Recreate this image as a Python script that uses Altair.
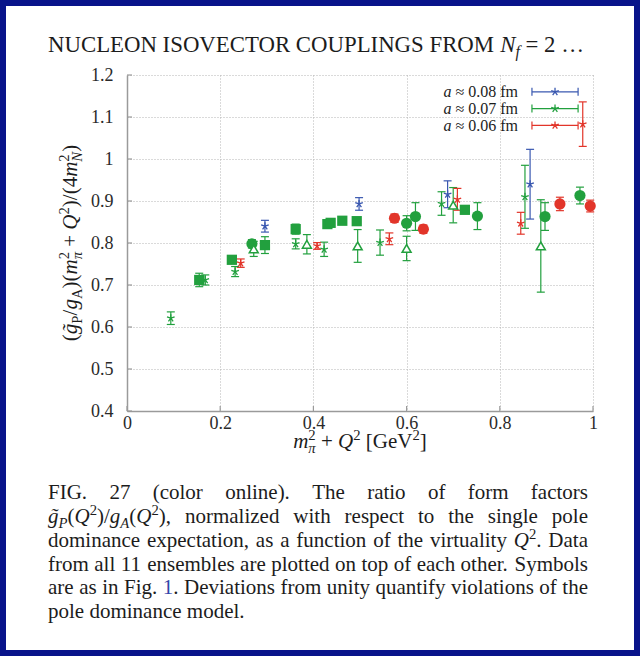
import altair as alt
import pandas as pd

# ---------------- data ----------------
blue_star_x = [0.296, 0.498, 0.688, 0.865]
blue_star_y = [0.840, 0.893, 0.916, 0.940]
blue_star_e = [0.014, 0.015, 0.032, 0.083]

green_star_x = [0.094, 0.168, 0.232, 0.362, 0.423, 0.543, 0.675, 0.854]
green_star_y = [0.621, 0.712, 0.732, 0.798, 0.785, 0.801, 0.894, 0.910]
green_star_e = [0.015, 0.012, 0.012, 0.012, 0.017, 0.030, 0.028, 0.075]

green_sq_x = [0.155, 0.225, 0.296, 0.362, 0.430, 0.437, 0.462, 0.493, 0.725]
green_sq_y = [0.712, 0.760, 0.795, 0.833, 0.845, 0.848, 0.853, 0.852, 0.879]
green_sq_e = [0.016, 0.008, 0.020, 0.012, 0.008, 0.008, 0.006, 0.006, 0.008]

green_ci_x = [0.268, 0.600, 0.619, 0.752, 0.897, 0.972]
green_ci_y = [0.798, 0.847, 0.863, 0.864, 0.863, 0.913]
green_ci_e = [0.010, 0.018, 0.033, 0.032, 0.033, 0.020]

green_tr_x = [0.272, 0.386, 0.495, 0.600, 0.700, 0.888]
green_tr_y = [0.786, 0.797, 0.793, 0.787, 0.890, 0.793]
green_tr_e = [0.018, 0.023, 0.039, 0.029, 0.042, 0.110]

red_star_x = [0.244, 0.408, 0.563, 0.709, 0.845, 0.978]
red_star_y = [0.752, 0.793, 0.810, 0.904, 0.847, 1.083]
red_star_e = [0.010, 0.008, 0.014, 0.026, 0.026, 0.053]

red_ci_x = [0.574, 0.636, 0.929, 0.994]
red_ci_y = [0.859, 0.833, 0.893, 0.888]
red_ci_e = [0.010, 0.010, 0.016, 0.014]

spacing_labels = ["0.08 fm", "0.07 fm", "0.06 fm"]
spacing_colors = ["#3a58b0", "#22a03e", "#e2352a"]

x_ticks = [0, 0.2, 0.4, 0.6, 0.8, 1]
y_ticks = [0.4, 0.5, 0.6, 0.7, 0.8, 0.9, 1.0, 1.1, 1.2]

title_text = "NUCLEON ISOVECTOR COUPLINGS FROM "
caption_lines = [
    "FIG. 27 (color online). The ratio of form factors",
    "normalized with respect to the single pole",
    "dominance expectation, as a function of the virtuality",
    "from all 11 ensembles are plotted on top of each other. Symbols",
    "Deviations from unity quantify violations of the",
    "pole dominance model.",
]

# ---------------- layout constants ----------------
PW, PH = 466, 336          # plot area size
OX, OY = 127, 75           # plot origin on the canvas
XD = [0, 1]
YD = [0.4, 1.2]
FONT = "Liberation Serif"
INK = "#1c1c1c"
LINK = "#3344aa"
NAVY = "#08148a"
AXC = "#9a9a9a"

series = [
    (spacing_labels[0], "star", blue_star_x, blue_star_y, blue_star_e),
    (spacing_labels[1], "star", green_star_x, green_star_y, green_star_e),
    (spacing_labels[1], "square", green_sq_x, green_sq_y, green_sq_e),
    (spacing_labels[1], "circle", green_ci_x, green_ci_y, green_ci_e),
    (spacing_labels[1], "triangle", green_tr_x, green_tr_y, green_tr_e),
    (spacing_labels[2], "star", red_star_x, red_star_y, red_star_e),
    (spacing_labels[2], "circle", red_ci_x, red_ci_y, red_ci_e),
]
rows = []
for a, m, xs_, ys_, es_ in series:
    for xv, yv, ev in zip(xs_, ys_, es_):
        rows.append(dict(a=a, m=m, x=xv, y=yv, lo=yv - ev, hi=yv + ev))
df = pd.DataFrame(rows)

# ---------------- scales / axes ----------------
xs = alt.Scale(domain=XD, nice=False, zero=False)
ys = alt.Scale(domain=YD, nice=False, zero=False)
common_axis = dict(
    title=None, grid=True, gridDash=[1, 2], gridColor="#b5b5b5", gridWidth=1,
    domainColor=AXC, domainWidth=1.5, ticks=False, tickSize=0,
    labelFont=FONT, labelFontSize=18, labelColor="#2a2a2a", labelFlush=False,
    labelOverlap=False, format="~g",
)
xaxis = alt.Axis(values=x_ticks, labelPadding=3, **common_axis)
yaxis = alt.Axis(values=y_ticks, labelPadding=14, **common_axis)


def X(f):
    return alt.X(f"{f}:Q", scale=xs, axis=xaxis)


def Y(f):
    return alt.Y(f"{f}:Q", scale=ys, axis=yaxis)


col = alt.Color("a:N", scale=alt.Scale(domain=spacing_labels, range=spacing_colors), legend=None)

STAR = "M0,0L0,-1M0,0L0.95,-0.31M0,0L0.59,0.81M0,0L-0.59,0.81M0,0L-0.95,-0.31"
HCAP = "M-1,0L1,0"
VCAP = "M0,-1L0,1"

base = alt.Chart(df)
err_rule = base.mark_rule(strokeWidth=1.2).encode(x=X("x"), y=Y("lo"), y2="hi:Q", color=col)
cap_lo = base.mark_point(shape=HCAP, size=64, filled=False, strokeWidth=1.2, opacity=1).encode(
    x=X("x"), y=Y("lo"), color=col)
cap_hi = base.mark_point(shape=HCAP, size=64, filled=False, strokeWidth=1.2, opacity=1).encode(
    x=X("x"), y=Y("hi"), color=col)
squares = base.transform_filter(alt.datum.m == "square").mark_point(
    shape="square", filled=True, size=105, opacity=1).encode(x=X("x"), y=Y("y"), color=col)
circles = base.transform_filter(alt.datum.m == "circle").mark_point(
    shape="circle", filled=True, size=125, opacity=1).encode(x=X("x"), y=Y("y"), color=col)
triangles = base.transform_filter(alt.datum.m == "triangle").mark_point(
    shape="triangle-up", filled=False, fill="white", fillOpacity=1, size=80, strokeWidth=1.5,
    opacity=1).encode(x=X("x"), y=Y("y"), color=col)
stars = base.transform_filter(alt.datum.m == "star").mark_point(
    shape=STAR, filled=False, size=64, strokeWidth=1.3, opacity=1).encode(
    x=X("x"), y=Y("y"), color=col)

# inward tick marks on the left and bottom axes
ytk = pd.DataFrame({"y": y_ticks, "x": [XD[0]] * len(y_ticks)})
xtk = pd.DataFrame({"x": x_ticks, "y": [YD[0]] * len(x_ticks)})
ytick_marks = alt.Chart(ytk).mark_point(
    shape="M0,0L1,0", size=100, filled=False, color=AXC, strokeWidth=1.2, opacity=1).encode(
    x=X("x"), y=Y("y"))
xtick_marks = alt.Chart(xtk).mark_point(
    shape="M0,0L0,-1", size=100, filled=False, color=AXC, strokeWidth=1.2, opacity=1).encode(
    x=X("x"), y=Y("y"))

# ---------------- key (legend) ----------------
KEY_Y0, KEY_DY = 1.16, 0.04
KEY_X0, KEY_X1, KEY_TXT = 0.869, 0.968, 0.839
key = pd.DataFrame({
    "a": spacing_labels,
    "y": [KEY_Y0 - KEY_DY * i for i in range(3)],
})
key["x"] = KEY_X0
key["x2"] = KEY_X1
key["xm"] = (KEY_X0 + KEY_X1) / 2
kb = alt.Chart(key)
key_rule = kb.mark_rule(strokeWidth=1.2).encode(x=X("x"), x2="x2:Q", y=Y("y"), color=col)
key_c0 = kb.mark_point(shape=VCAP, size=64, filled=False, strokeWidth=1.2, opacity=1).encode(
    x=X("x"), y=Y("y"), color=col)
key_c1 = kb.mark_point(shape=VCAP, size=64, filled=False, strokeWidth=1.2, opacity=1).encode(
    x=X("x2"), y=Y("y"), color=col)
key_star = kb.mark_point(shape=STAR, size=64, filled=False, strokeWidth=1.3, opacity=1).encode(
    x=X("xm"), y=Y("y"), color=col)

# ---------------- rich text layout (Times metrics) ----------------
W = {" ": 250, "(": 333, ")": 333, ",": 250, ".": 250, "/": 278, "=": 564, "+": 564,
     "[": 333, "]": 333, "\u2248": 549, "\u2026": 1000, "\u0303": 0, "\u03c0": 549}
for d in "0123456789":
    W[d] = 500
W.update(dict(A=722, B=667, C=667, D=722, E=611, F=556, G=722, H=722, I=333, J=389, K=722,
              L=611, M=889, N=722, O=722, P=556, Q=722, R=667, S=556, T=611, U=722, V=722,
              W=944, X=722, Y=722, Z=611))
W.update(dict(a=444, b=500, c=444, d=500, e=444, f=333, g=500, h=500, i=278, j=278, k=500,
              l=278, m=778, n=500, o=500, p=500, q=500, r=333, s=389, t=278, u=500, v=500,
              w=722, x=500, y=500, z=444))
WI = dict(W)
WI.update(dict(A=611, N=667, P=611, Q=722, a=500, f=278, g=500, m=722))
WI["\u03c0"] = 500


def width(s, italic):
    tb = WI if italic else W
    return sum(tb.get(c, 500) for c in s) / 1000.0


def R(s): return (s, "r", 1.0, 0.0, True)
def I(s): return (s, "i", 1.0, 0.0, True)
def B(s): return (s, "b", 1.0, 0.0, True)
def SUB(s, st="i"): return (s, st, 0.7, 0.22, True)
def SUP(s): return (s, "r", 0.7, -0.4, True)
def SUPNA(s): return (s, "r", 0.7, -0.4, False)


def run_w(run, size):
    t, st, sc, dy, adv = run
    return width(t, st == "i") * size * sc if adv else 0.0


def place(runs, x0, y0, size, angle=0):
    """Lay runs out one after another; spaces only advance the pen."""
    out, pos = [], 0.0
    for run in runs:
        t, st, sc, dy, adv = run
        fs = size * sc
        lead = len(t) - len(t.lstrip(" "))
        shown = t.strip(" ")
        off = pos + width(" " * lead, st == "i") * fs
        if shown:
            if angle == 0:
                px, py = x0 + off, y0 + dy * size
            else:
                px, py = x0 + dy * size, y0 - off
            out.append(dict(px=px, py=py, t=shown, fs=fs, st=st, ang=angle))
        pos += run_w(run, size)
    return out, pos


def words_of(s):
    return [[R(w)] for w in s.split()]


def justify(words, x0, y0, size, target=None):
    ws = [sum(run_w(r, size) for r in w) for w in words]
    gap = 0.25 * size
    if target is not None and len(words) > 1:
        gap = (target - sum(ws)) / (len(words) - 1)
    out, x = [], x0
    for w, wd in zip(words, ws):
        o, _ = place(w, x, y0, size)
        out += o
        x += wd + gap
    return out


texts = []
# title
t_runs = [R(title_text), I("N"), SUB("f"), R(" = 2 \u2026")]
o, _ = place(t_runs, 48 - OX, 52 - OY, 22.8)
texts += o

# caption
CAP = 21
cap_x0, cap_w = 48 - OX, 540
base_lines = [499, 523, 547, 571, 594, 618]
line_words = [
    words_of(caption_lines[0]),
    [[I("g\u0303"), SUB("P"), R("("), I("Q"), SUP("2"), R(")/"), I("g"), SUB("A"), R("("),
      I("Q"), SUP("2"), R("),")]] + words_of(caption_lines[1]),
    words_of(caption_lines[2]) + [[I("Q"), SUP("2"), R(".")], [R("Data")]],
    words_of(caption_lines[3]),
    words_of("are as in Fig.") + [[B("1"), R(".")]] + words_of(caption_lines[4]),
    words_of(caption_lines[5]),
]
for i, (wds, bl) in enumerate(zip(line_words, base_lines)):
    texts += justify(wds, cap_x0, bl - OY, CAP, cap_w if i < 5 else None)

# x axis title
xt_runs = [I("m"), SUPNA("2"), SUB("\u03c0"), R(" + "), I("Q"), SUP("2"), R(" [GeV"), SUP("2"), R("]")]
xt_len = sum(run_w(r, 21) for r in xt_runs)
o, _ = place(xt_runs, PW / 2 - xt_len / 2, 448 - OY, 21)
texts += o

# y axis title (rotated)
yt_runs = [R("("), I("g\u0303"), SUB("P", "r"), R("/"), I("g"), SUB("A", "r"), R(")("), I("m"),
           SUPNA("2"), SUB("\u03c0"), R(" + "), I("Q"), SUP("2"), R(")/(4"), I("m"), SUPNA("2"),
           SUB("N"), R(")")]
yt_len = sum(run_w(r, 21) for r in yt_runs)
o, _ = place(yt_runs, 77 - OX, PH / 2 + yt_len / 2, 21, angle=270)
texts += o

# key labels, right aligned
KEY_FS = 16
for lab, yv in zip(spacing_labels, key["y"]):
    runs = [I("a"), R(" \u2248 " + lab)]
    L = sum(run_w(r, KEY_FS) for r in runs)
    py = (YD[1] - yv) / (YD[1] - YD[0]) * PH + 5.5
    o, _ = place(runs, KEY_TXT * PW - L, py, KEY_FS)
    texts += o

tdf = pd.DataFrame(texts)
tdf["x"] = tdf["px"] / PW * (XD[1] - XD[0]) + XD[0]
tdf["y"] = YD[1] - tdf["py"] / PH * (YD[1] - YD[0])


def text_layer(style, italic, color):
    sub = tdf[tdf["st"] == style]
    kw = dict(align="left", baseline="alphabetic", font=FONT, color=color)
    if italic:
        kw["fontStyle"] = "italic"
    return alt.Chart(sub).mark_text(**kw).encode(
        x=X("x"), y=Y("y"), text="t:N",
        size=alt.Size("fs:Q", scale=None),
        angle=alt.Angle("ang:Q", scale=None),
    )


txt_r = text_layer("r", False, INK)
txt_i = text_layer("i", True, INK)
txt_b = text_layer("b", False, LINK)

# page frame (dark blue border around the white page)
frame = alt.Chart(pd.DataFrame({"k": [0]})).mark_rect(
    fillOpacity=0, stroke=NAVY, strokeWidth=12).encode(
    x=alt.value(-OX), x2=alt.value(640 - OX), y=alt.value(-OY), y2=alt.value(656 - OY))

chart = alt.layer(
    ytick_marks, xtick_marks,
    err_rule, cap_lo, cap_hi, squares, circles, triangles, stars,
    key_rule, key_c0, key_c1, key_star,
    txt_r, txt_i, txt_b, frame,
).properties(
    width=PW, height=PH, autosize="none",
    padding={"left": OX, "top": OY, "right": 640 - OX - PW, "bottom": 656 - OY - PH},
    background="white",
).configure_view(stroke=None).configure_axis(
    labelFont=FONT, labelFontSize=18, labelColor="#2a2a2a")

chart.save("out.html", embed_options={"renderer": "svg", "actions": False})
